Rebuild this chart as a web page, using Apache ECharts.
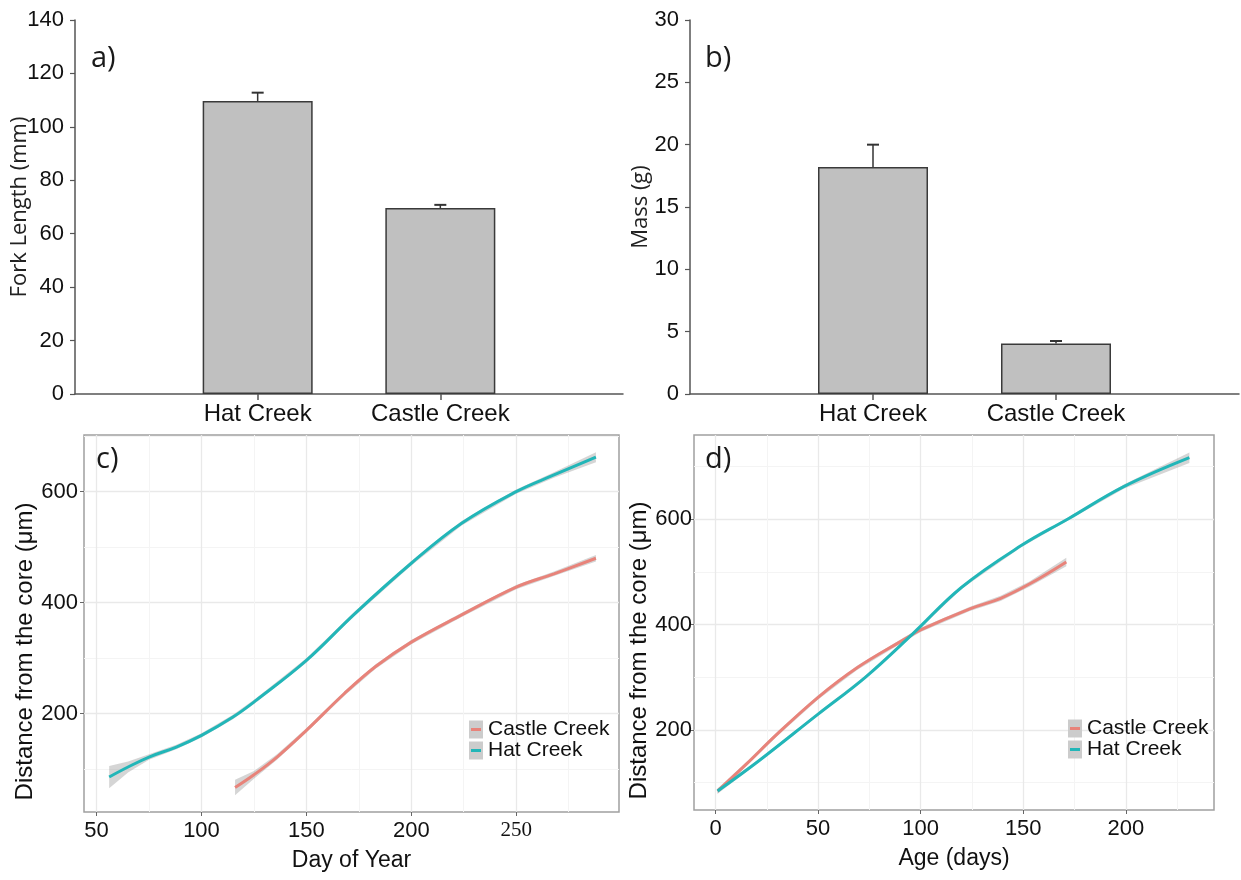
<!DOCTYPE html>
<html>
  <head>
    <meta charset="UTF-8">
    <script src="https://cdn.jsdelivr.net/npm/echarts@6/dist/echarts.min.js"></script>
    <title>Hat Creek vs Castle Creek</title>
  </head>
  <body style="margin:0;background:#fff;">
    <div id="main" style="width:1241px;height:880px;"></div>
  </body>

  <script>
// bar panels a) and b)
var barCats = ['Hat Creek', 'Castle Creek'];
var forkMean = [109.7, 69.6];
var forkUpper = [112.8, 70.8];
var massMean = [18.2, 4.05];
var massUpper = [20.0, 4.25];

// panel c) distance vs day of year
var cHatDay = [56, 65, 75, 88, 100, 115, 126, 150, 173, 200, 224, 250, 268, 288];
var cHatVal = [86, 104, 122, 140, 161, 194, 224, 296, 380, 471, 543, 600, 630, 662];
var cHatSe  = [20, 10, 5, 4, 4, 4, 4, 4, 4, 4, 4, 4, 5, 9];
var cCastleDay = [116, 125, 136, 150, 168, 183, 200, 224, 250, 268, 288];
var cCastleVal = [67, 90, 122, 170, 236, 285, 329, 378, 428, 452, 480];
var cCastleSe  = [14, 7, 5, 4, 4, 4, 4, 4, 4, 4, 6];

// panel d) distance vs age
var dHatAge = [1, 21, 50, 73, 96, 120, 149, 172, 199, 231];
var dHatVal = [84, 141, 230, 300, 382, 471, 550, 601, 662, 717];
var dHatSe  = [5, 3, 3, 3, 3, 3, 3, 3, 4, 10];
var dCastleAge = [1, 15, 30, 50, 69, 92, 100, 124, 139, 153, 171];
var dCastleVal = [84, 135, 192, 262, 318, 372, 390, 430, 450, 477, 519];
var dCastleSe  = [5, 4, 4, 4, 4, 4, 4, 4, 5, 5, 8];

var cXTicks = [50, 100, 150, 200, 250];
var cYTicks = [200, 400, 600];
var dXTicks = [0, 50, 100, 150, 200];
var dYTicks = [200, 400, 600];

var castleColor = '#E8837A';
var hatColor = '#22B6B8';
var sans = 'Liberation Sans, Arial, sans-serif';

var chart = echarts.init(document.getElementById('main'));

function pairs(xs, ys) {
  return xs.map(function (x, i) { return [x, ys[i]]; });
}
function band(xs, ys, se) {
  return xs.map(function (x, i) { return [x, ys[i] - se[i], ys[i] + se[i]]; });
}

function renderBand(params, api) {
  if (params.dataIndexInside !== 0) return;
  var n = params.dataInsideLength;
  var up = [], lo = [];
  for (var i = 0; i < n; i++) {
    up.push(api.coord([api.value(0, i), api.value(2, i)]));
    lo.push(api.coord([api.value(0, i), api.value(1, i)]));
  }
  return {
    type: 'polygon',
    shape: { points: up.concat(lo.reverse()) },
    style: { fill: 'rgba(150,150,150,0.4)' }
  };
}

function renderErr(params, api) {
  var x = api.value(0);
  var p0 = api.coord([x, api.value(1)]);
  var p1 = api.coord([x, api.value(2)]);
  return {
    type: 'group',
    children: [
      { type: 'line', shape: { x1: p0[0], y1: p0[1], x2: p1[0], y2: p1[1] },
        style: { stroke: '#333', lineWidth: 1.5 } },
      { type: 'line', shape: { x1: p1[0] - 6, y1: p1[1], x2: p1[0] + 6, y2: p1[1] },
        style: { stroke: '#333', lineWidth: 2 } }
    ]
  };
}

function barX(gridIndex) {
  return {
    gridIndex: gridIndex,
    type: 'category',
    boundaryGap: false,
    data: [''].concat(barCats, ['']),
    axisLine: { lineStyle: { color: '#555', width: 1.5 } },
    axisTick: { length: 6, lineStyle: { color: '#555', width: 1.5 },
      interval: function (i) { return i === 1 || i === 2; } },
    axisLabel: { fontSize: 24, color: '#111', fontFamily: sans, margin: 8, interval: 0 }
  };
}
function barY(gridIndex, max, step, name, gap) {
  return {
    gridIndex: gridIndex,
    type: 'value',
    min: 0, max: max, interval: step,
    name: name, nameLocation: 'middle', nameGap: gap, nameMoveOverlap: false,
    nameTextStyle: { fontSize: 22, color: '#222', fontFamily: 'Open Sans' },
    axisLine: { show: true, lineStyle: { color: '#555', width: 1.5 } },
    axisTick: { show: true, length: 5, lineStyle: { color: '#555', width: 1.2 } },
    axisLabel: { fontSize: 22, color: '#111', fontFamily: sans, margin: 11 },
    splitLine: { show: false }
  };
}
function lineAxis(gridIndex, dim, min, max, split, ticks, name, gap, margin, fmt) {
  return {
    gridIndex: gridIndex,
    type: 'value',
    min: min, max: max, splitNumber: split,
    name: name, nameLocation: 'middle', nameGap: gap,
    nameTextStyle: dim === 'y'
      ? { fontSize: 24, color: '#111', fontFamily: sans, padding: [0, 56, 0, 0] }
      : { fontSize: 23, color: '#111', fontFamily: sans },
    axisLine: { show: false, onZero: false },
    axisTick: { show: true, length: 4, customValues: ticks, lineStyle: { color: '#666' } },
    axisLabel: { customValues: ticks, fontSize: 22, color: '#111', fontFamily: sans,
      margin: margin, formatter: fmt,
      rich: { serif: { fontFamily: 'Liberation Serif, serif', fontSize: 21, color: '#111' } } },
    splitLine: { show: true, lineStyle: { color: '#e9e9e9', width: 1.3 } },
    minorTick: { show: false, splitNumber: 2 },
    minorSplitLine: { show: true, lineStyle: { color: '#f4f4f4', width: 1 } }
  };
}

var legendFont = { fontSize: 21, color: '#111', fontFamily: sans, lineHeight: 18 };
function legendPair(left, top) {
  return [
    { orient: 'vertical', left: left, top: top, padding: 0, itemWidth: 14, itemHeight: 18, itemGap: 0,
      icon: 'rect', itemStyle: { color: '#cccccc', borderWidth: 0 }, textStyle: legendFont,
      selectedMode: false, data: ['Castle Creek', 'Hat Creek'] },
    { orient: 'vertical', left: left + 2, top: top, padding: 0, itemWidth: 10, itemHeight: 3, itemGap: 0,
      icon: 'rect', itemStyle: { borderWidth: 0 },
      textStyle: Object.assign({}, legendFont, { color: 'transparent' }),
      selectedMode: false, data: ['Castle Creek', 'Hat Creek'] }
  ];
}
function panelTitle(text, left, top) {
  return { text: text, left: left, top: top, padding: 0,
    textStyle: { fontSize: 29, fontWeight: 'normal', fontFamily: 'Open Sans', color: '#1a1a1a' } };
}

option = {
  backgroundColor: '#fff',
  animation: false,
  title: [
    panelTitle('a)', 91, 44),
    panelTitle('b)', 705, 44),
    panelTitle('c)', 96, 445),
    panelTitle('d)', 705, 445)
  ],
  legend: legendPair(469, 719).concat(legendPair(1068, 718)),
  grid: [
    { left: 75, top: 20, width: 548, height: 374, outerBoundsMode: 'none' },
    { left: 690, top: 20, width: 549, height: 374, outerBoundsMode: 'none' },
    { left: 84, top: 435, width: 535, height: 377, show: true, borderColor: '#a0a0a0', borderWidth: 1.5, outerBoundsMode: 'none' },
    { left: 694, top: 435, width: 520, height: 375, show: true, borderColor: '#a0a0a0', borderWidth: 1.5, outerBoundsMode: 'none' }
  ],
  xAxis: [
    barX(0),
    barX(1),
    lineAxis(2, 'x', 44, 299, 5, cXTicks, 'Day of Year', 37, 8,
      function (v) { return v === 250 ? '{serif|250}' : String(v); }),
    lineAxis(3, 'x', -10.5, 243, 5, dXTicks, 'Age (days)', 37, 8,
      function (v) { return String(v); })
  ],
  yAxis: [
    barY(0, 140, 20, 'Fork Length (mm)', 44),
    barY(1, 30, 5, 'Mass (g)', 38),
    lineAxis(2, 'y', 23, 702, 3, cYTicks, 'Distance from the core (\u03bcm)', 44, 6,
      function (v) { return String(v); }),
    lineAxis(3, 'y', 48, 760, 3, dYTicks, 'Distance from the core (\u03bcm)', 43, 2,
      function (v) { return String(v); })
  ],
  series: [
    { type: 'bar', xAxisIndex: 0, yAxisIndex: 0, barWidth: 110,
      itemStyle: { color: '#c0c0c0', borderColor: '#3a3a3a', borderWidth: 1.5 },
      data: pairs(barCats, forkMean) },
    { type: 'custom', xAxisIndex: 0, yAxisIndex: 0, renderItem: renderErr,
      encode: { x: 0, y: [1, 2] },
      data: barCats.map(function (c, i) { return [c, forkMean[i], forkUpper[i]]; }) },
    { type: 'bar', xAxisIndex: 1, yAxisIndex: 1, barWidth: 110,
      itemStyle: { color: '#c0c0c0', borderColor: '#3a3a3a', borderWidth: 1.5 },
      data: pairs(barCats, massMean) },
    { type: 'custom', xAxisIndex: 1, yAxisIndex: 1, renderItem: renderErr,
      encode: { x: 0, y: [1, 2] },
      data: barCats.map(function (c, i) { return [c, massMean[i], massUpper[i]]; }) },

    { type: 'custom', name: 'cHatBand', xAxisIndex: 2, yAxisIndex: 2, renderItem: renderBand,
      encode: { x: 0, y: [1, 2] }, data: band(cHatDay, cHatVal, cHatSe), z: 1 },
    { type: 'custom', name: 'cCastleBand', xAxisIndex: 2, yAxisIndex: 2, renderItem: renderBand,
      encode: { x: 0, y: [1, 2] }, data: band(cCastleDay, cCastleVal, cCastleSe), z: 1 },
    { type: 'line', name: 'Castle Creek', xAxisIndex: 2, yAxisIndex: 2, smooth: 0.4, symbol: 'none',
      color: castleColor, lineStyle: { width: 3, color: castleColor }, data: pairs(cCastleDay, cCastleVal), z: 3 },
    { type: 'line', name: 'Hat Creek', xAxisIndex: 2, yAxisIndex: 2, smooth: 0.4, symbol: 'none',
      color: hatColor, lineStyle: { width: 3, color: hatColor }, data: pairs(cHatDay, cHatVal), z: 3 },

    { type: 'custom', name: 'dHatBand', xAxisIndex: 3, yAxisIndex: 3, renderItem: renderBand,
      encode: { x: 0, y: [1, 2] }, data: band(dHatAge, dHatVal, dHatSe), z: 1 },
    { type: 'custom', name: 'dCastleBand', xAxisIndex: 3, yAxisIndex: 3, renderItem: renderBand,
      encode: { x: 0, y: [1, 2] }, data: band(dCastleAge, dCastleVal, dCastleSe), z: 1 },
    { type: 'line', name: 'Castle Creek', xAxisIndex: 3, yAxisIndex: 3, smooth: 0.4, symbol: 'none',
      color: castleColor, lineStyle: { width: 3, color: castleColor }, data: pairs(dCastleAge, dCastleVal), z: 3 },
    { type: 'line', name: 'Hat Creek', xAxisIndex: 3, yAxisIndex: 3, smooth: 0.4, symbol: 'none',
      color: hatColor, lineStyle: { width: 3, color: hatColor }, data: pairs(dHatAge, dHatVal), z: 3 }
  ]
};

chart.setOption(option);
  </script>
</html>
